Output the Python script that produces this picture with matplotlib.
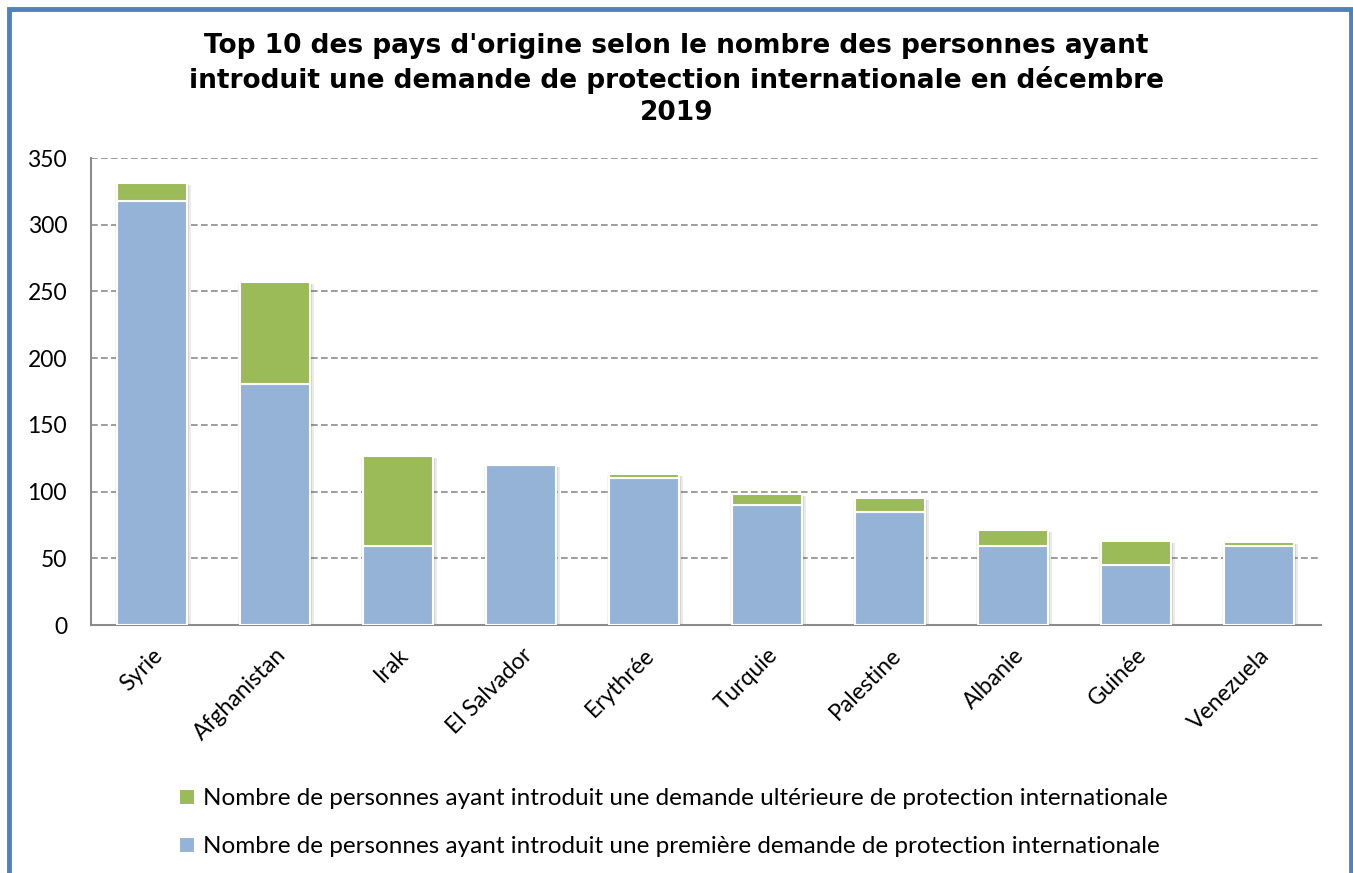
import matplotlib
matplotlib.use("Agg")
import matplotlib.pyplot as plt
from matplotlib.lines import Line2D
import numpy as np

# data
pays = ["Syrie", "Afghanistan", "Irak", "El Salvador", "Erythrée",
        "Turquie", "Palestine", "Albanie", "Guinée", "Venezuela"]
premiere = [318, 181, 59, 120, 110, 90, 85, 59, 45, 59]
ulterieure = [13, 76, 68, 0, 3, 8, 10, 12, 18, 3]

label_ult = "Nombre de personnes ayant introduit une demande ultérieure de protection internationale"
label_prem = "Nombre de personnes ayant introduit une première demande de protection internationale"
titre = ("Top 10 des pays d'origine selon le nombre des personnes ayant\n"
         "introduit une demande de protection internationale en décembre\n2019")

blue = "#95B3D7"
green = "#9BBB59"

plt.rcParams['font.family'] = ['Lato', 'DejaVu Sans']

fig = plt.figure(figsize=(13.53, 8.73), dpi=100)
ax = fig.add_axes([0.067, 0.284, 0.909, 0.535])

x = np.arange(len(pays))
w = 0.57
# soft shadow behind bars
for dx, a in [(0.03, 0.08), (0.015, 0.10), (-0.015, 0.05)]:
    ax.bar(x + dx, np.array(premiere) + np.array(ulterieure), w, bottom=-1.5,
           color="#000000", alpha=a, zorder=2, linewidth=0)
b1 = ax.bar(x, premiere, w, color=blue, edgecolor="white", linewidth=1.5, zorder=3)
b2 = ax.bar(x, ulterieure, w, bottom=premiere, color=green, edgecolor="white",
            linewidth=1.5, zorder=3)

ax.set_xlim(-0.5, len(pays) - 0.5)
ax.set_ylim(0, 350)
ax.set_yticks(range(0, 351, 50))
ax.yaxis.grid(True, linestyle=(0, (4, 2)), color="#8c8c8c", linewidth=1.2, zorder=0)
ax.set_axisbelow(True)
for s in ["top", "right"]:
    ax.spines[s].set_visible(False)
for s in ["left", "bottom"]:
    ax.spines[s].set_color("#8c8c8c")
    ax.spines[s].set_linewidth(1.5)
ax.tick_params(length=0, labelsize=16.5)
ax.tick_params(axis="y", pad=17)
ax.set_xticks(x)
ax.set_xticklabels(pays, rotation=45, ha="right", rotation_mode="anchor")
ax.tick_params(axis="x", pad=14)

fig.suptitle(titre, y=0.962, fontsize=19, fontweight="bold",
             family="DejaVu Sans", linespacing=1.3)

fig.legend([b2, b1], [label_ult, label_prem], loc="upper left",
           bbox_to_anchor=(0.125, 0.108), frameon=False,
           fontsize=17.5, handlelength=0.65, handleheight=0.65, handletextpad=0.35,
           labelspacing=1.1, borderaxespad=0)

# frame open at the bottom, like the cropped source
fig.add_artist(Line2D([8.5 / 1353, 8.5 / 1353, 1350.5 / 1353, 1350.5 / 1353],
                      [-0.01, 1 - 9 / 873, 1 - 9 / 873, -0.01],
                      transform=fig.transFigure, color="#4F81BD", linewidth=3.5,
                      solid_joinstyle="miter"))

fig.savefig("out.png", dpi=100)
